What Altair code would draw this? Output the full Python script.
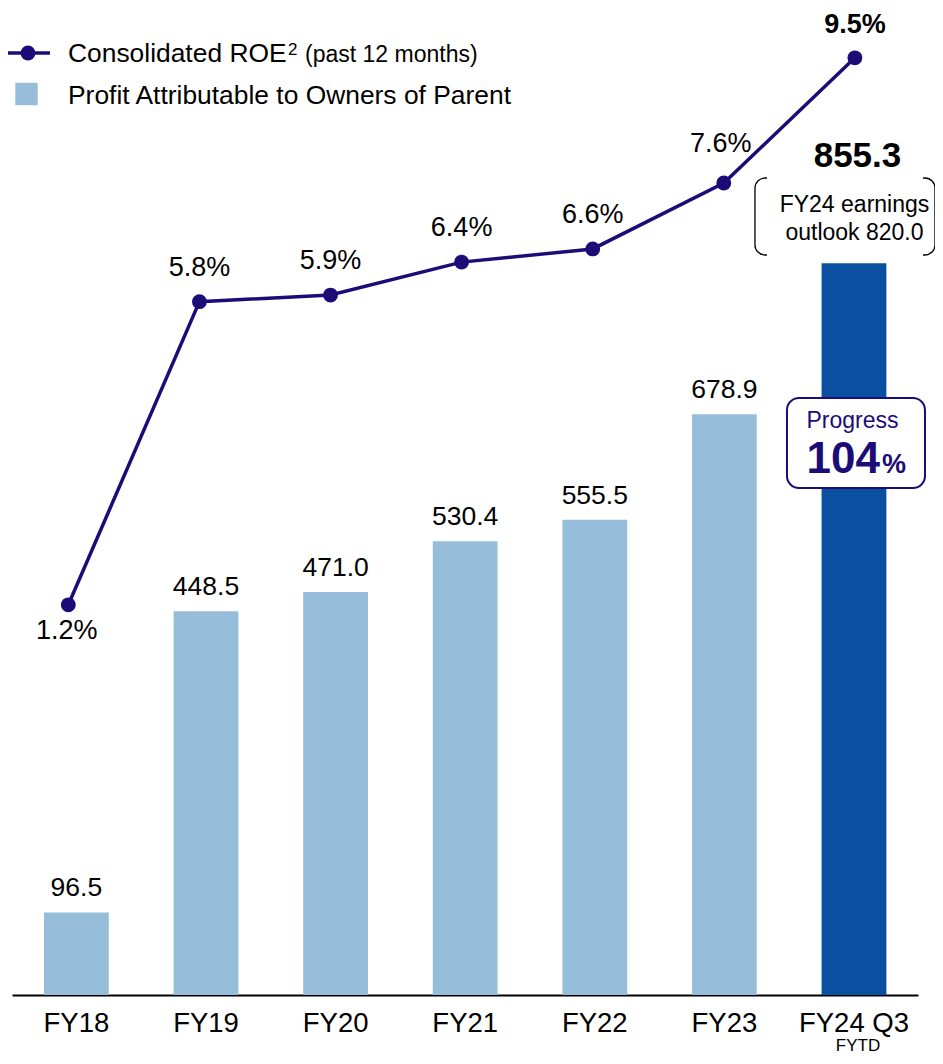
import altair as alt
import pandas as pd

# ---- data ----
cats = ["FY18", "FY19", "FY20", "FY21", "FY22", "FY23", "FY24 Q3"]
profit = [96.5, 448.5, 471.0, 530.4, 555.5, 678.9, 855.3]
roe = [1.2, 5.8, 5.9, 6.4, 6.6, 7.6, 9.5]
outlook = 820.0
progress = 104
legend_labels = ["Consolidated ROE", "Profit Attributable to Owners of Parent"]
legend_sup = "2"
legend_note = "(past 12 months)"
fy24_sub = "FYTD"

LIGHT = "#96BDD9"
DARK = "#0B50A0"
NAVY = "#1B0C77"
FONT = "Liberation Sans"

df = pd.DataFrame({
    "cat": cats,
    "profit": profit,
    "roe": roe,
    "profit_label": [f"{v:.1f}" for v in profit],
    "roe_label": [f"{v:.1f}%" for v in roe],
})
ann = pd.DataFrame({
    "cat": [cats[-1]],
    "line1": ["FY24 earnings"],
    "line2": [f"outlook {outlook:.1f}"],
    "prog_word": ["Progress"],
    "prog_num": [str(progress)],
    "pct": ["%"],
    "sub": [fy24_sub],
})
leg = pd.DataFrame({"a": legend_labels[:1], "b": legend_labels[1:], "sup": [legend_sup], "note": [legend_note]})

# ---- scales ----
x_bar = alt.X(
    "cat:N", sort=cats,
    scale=alt.Scale(type="band", domain=cats, paddingInner=0.5, paddingOuter=0.2455, align=0.503),
    axis=alt.Axis(title=None, ticks=False, grid=False, domainColor="black", domainWidth=2,
                  labelFontSize=27.5, labelFont=FONT, labelColor="black", labelPadding=36,
                  labelBaseline="alphabetic", labelAngle=0),
)
y_bar = alt.Y("profit:Q", scale=alt.Scale(domain=[0, 1153.7], nice=False, zero=True), axis=None)

x_line = alt.X("cat:N", sort=cats,
               scale=alt.Scale(type="point", domain=cats, padding=0.4555, align=0.4716),
               axis=None)
y_roe = alt.Y("roe:Q", scale=alt.Scale(domain=[-4.721, 10.256], nice=False, zero=False), axis=None)

base = alt.Chart(df)
is24 = alt.datum.cat == cats[-1]
not24 = alt.datum.cat != cats[-1]

bars = base.mark_bar().encode(
    x=x_bar, y=y_bar,
    color=alt.Color("cat:N", scale=alt.Scale(domain=cats, range=[LIGHT] * 6 + [DARK]), legend=None),
)
bar_lbl = base.transform_filter(not24).mark_text(
    dy=-16, fontSize=26.5, baseline="alphabetic", color="black"
).encode(x=x_bar, y=y_bar, text="profit_label:N")
bar_lbl24 = base.transform_filter(is24).mark_text(
    dy=-96, dx=3.5, fontSize=35, fontWeight="bold", baseline="alphabetic", color="black"
).encode(x=x_bar, y=y_bar, text="profit_label:N")

a = alt.Chart(ann)
bracket = a.mark_bar(width=180, cornerRadius=10, fill="white", stroke="black",
                     strokeWidth=1.3, xOffset=-9).encode(x=x_bar, y=alt.value(170), y2=alt.value(247))
mask = a.mark_bar(width=156, fill="white", xOffset=-9).encode(
    x=x_bar, y=alt.value(167), y2=alt.value(250))
out1 = a.mark_text(fontSize=23, baseline="alphabetic", color="black", dx=0.5).encode(
    x=x_bar, y=alt.value(204), text="line1:N")
out2 = a.mark_text(fontSize=23, baseline="alphabetic", color="black", dx=0.5).encode(
    x=x_bar, y=alt.value(232), text="line2:N")
pbox = a.mark_bar(width=138, cornerRadius=12, fill="white", stroke=NAVY, strokeWidth=2,
                  xOffset=2).encode(x=x_bar, y=alt.value(390), y2=alt.value(480))
pword = a.mark_text(fontSize=23, baseline="alphabetic", color=NAVY, dx=-1.5).encode(
    x=x_bar, y=alt.value(420), text="prog_word:N")
pnum = a.mark_text(fontSize=44, fontWeight="bold", baseline="alphabetic", align="right",
                   color=NAVY, dx=26).encode(x=x_bar, y=alt.value(465), text="prog_num:N")
ppct = a.mark_text(fontSize=27, fontWeight="bold", baseline="alphabetic", align="left",
                   color=NAVY, dx=28).encode(x=x_bar, y=alt.value(465), text="pct:N")
fytd = a.mark_text(fontSize=17, baseline="alphabetic", color="black", dx=4).encode(
    x=x_bar, y=alt.value(1043), text="sub:N")

bar_group = alt.layer(bars, bar_lbl, bar_lbl24, pbox, bracket, mask, out1, out2,
                      pword, pnum, ppct, fytd)

# ---- ROE line ----
line = base.mark_line(color=NAVY, strokeWidth=3.5).encode(x=x_line, y=y_roe)
pts = base.mark_circle(size=220, color=NAVY, opacity=1).encode(x=x_line, y=y_roe)


def roe_text(filt, dy, dx=0, bold=False):
    return base.transform_filter(filt).mark_text(
        dy=dy, dx=dx, fontSize=27, baseline="alphabetic", color="black",
        fontWeight="bold" if bold else "normal",
    ).encode(x=x_line, y=y_roe, text="roe_label:N")


r18 = roe_text(alt.datum.cat == "FY18", 34, -1.5)
rmid = roe_text(alt.FieldOneOfPredicate(field="cat", oneOf=["FY19", "FY20", "FY21", "FY22"]), -26)
r23 = roe_text(alt.datum.cat == "FY23", -31, -3)
r24 = roe_text(is24, -25, 0, True)

l = alt.Chart(leg)
leg_line = l.mark_rule(color=NAVY, strokeWidth=3.5).encode(
    x=alt.value(-4), x2=alt.value(38), y=alt.value(45))
leg_dot = l.mark_circle(size=220, color=NAVY, opacity=1).encode(x=alt.value(16), y=alt.value(45))
leg_sq = l.mark_square(size=500, color=LIGHT, opacity=1).encode(x=alt.value(14.5), y=alt.value(86))
leg_t1 = l.mark_text(align="left", baseline="alphabetic", fontSize=26.4, color="black").encode(
    x=alt.value(56), y=alt.value(54), text="a:N")
leg_sup = l.mark_text(align="left", baseline="alphabetic", fontSize=17, color="black").encode(
    x=alt.value(276), y=alt.value(47), text="sup:N")
leg_note = l.mark_text(align="left", baseline="alphabetic", fontSize=23, color="black").encode(
    x=alt.value(293), y=alt.value(54), text="note:N")
leg_t2 = l.mark_text(align="left", baseline="alphabetic", fontSize=26.4, color="black").encode(
    x=alt.value(56), y=alt.value(96), text="b:N")

line_group = alt.layer(line, pts, r18, rmid, r23, r24,
                       leg_line, leg_dot, leg_sq, leg_t1, leg_sup, leg_note, leg_t2)

chart = alt.layer(bar_group, line_group).resolve_scale(
    x="independent", y="independent", color="independent"
).properties(
    width=906, height=987,
    padding={"left": 4, "top": 0, "right": 17, "bottom": 61},
    autosize=alt.AutoSizeParams(type="none"),
    background="white",
).configure_view(stroke=None).configure_text(font=FONT).configure_axis(labelFont=FONT)

chart.save("out.html", embed_options={"renderer": "svg", "actions": False})
